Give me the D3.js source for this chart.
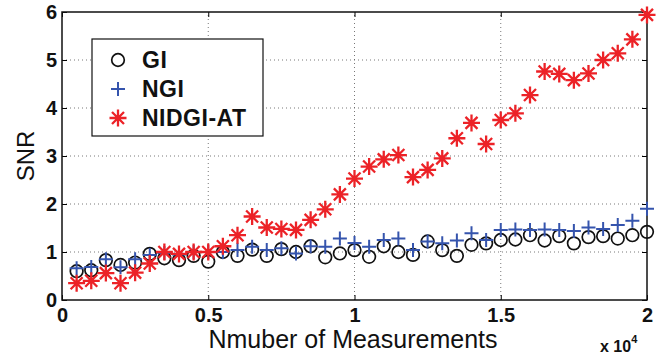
<!DOCTYPE html>
<html>
<head>
<meta charset="utf-8">
<script src="https://cdn.jsdelivr.net/npm/d3@7"></script>
<style>
  body { margin: 0; background: #fff; }
  svg { display: block; font-family: "Liberation Sans", Arial, sans-serif; }
</style>
</head>
<body>
<div id="chart"></div>
<script>
// sample counts: 500, 1000, ..., 20000
const measurements = d3.range(1, 41).map(k => k * 500);

const gi = [0.60, 0.62, 0.83, 0.73, 0.78, 0.96, 0.87, 0.83, 0.92, 0.80,
            1.00, 0.92, 1.05, 0.92, 1.06, 1.00, 1.12, 0.89, 0.97, 1.04,
            0.90, 1.12, 1.00, 0.94, 1.22, 1.04, 0.92, 1.15, 1.18, 1.25,
            1.26, 1.35, 1.24, 1.33, 1.18, 1.31, 1.33, 1.28, 1.35, 1.42];

const ngi = [0.66, 0.69, 0.85, 0.68, 0.85, 0.94, 0.98, 0.95, 1.00, 1.00,
             1.00, 1.04, 1.11, 1.04, 1.08, 0.97, 1.12, 1.11, 1.28, 1.19,
             1.11, 1.25, 1.28, 1.04, 1.22, 1.18, 1.24, 1.39, 1.25, 1.46,
             1.47, 1.46, 1.47, 1.46, 1.44, 1.51, 1.48, 1.56, 1.65, 1.90];

const nidgi = [0.35, 0.40, 0.56, 0.35, 0.57, 0.76, 1.00, 0.96, 1.00, 1.00,
               1.12, 1.35, 1.74, 1.51, 1.48, 1.46, 1.67, 1.89, 2.20, 2.53,
               2.78, 2.93, 3.02, 2.56, 2.71, 2.95, 3.37, 3.69, 3.25, 3.75,
               3.89, 4.27, 4.76, 4.71, 4.58, 4.72, 5.00, 5.14, 5.43, 5.94];

const xTicks = [0, 5000, 10000, 15000, 20000];
const xTickLabels = ["0", "0.5", "1", "1.5", "2"];
const yTicks = [0, 1, 2, 3, 4, 5, 6];

const W = 667, H = 360;
const margin = { top: 12, right: 20, bottom: 60, left: 62 };

const svg = d3.select("#chart").append("svg")
  .attr("width", W)
  .attr("height", H);

const x = d3.scaleLinear().domain([0, 20000]).range([margin.left, W - margin.right]);
const y = d3.scaleLinear().domain([0, 6]).range([H - margin.bottom, margin.top]);

// dotted grid
svg.append("g")
  .selectAll("line")
  .data(xTicks.slice(1, -1))
  .join("line")
  .attr("x1", d => x(d)).attr("x2", d => x(d))
  .attr("y1", y(0)).attr("y2", y(6))
  .attr("stroke", "#555").attr("stroke-width", 0.8)
  .attr("stroke-dasharray", "1,3");

svg.append("g")
  .selectAll("line")
  .data(yTicks.slice(1, -1))
  .join("line")
  .attr("x1", x(0)).attr("x2", x(20000))
  .attr("y1", d => y(d)).attr("y2", d => y(d))
  .attr("stroke", "#555").attr("stroke-width", 0.8)
  .attr("stroke-dasharray", "1,3");

// axes, ticks pointing inward
const tickFont = g => g.selectAll("text")
  .style("font-size", "20px").style("font-weight", "bold").attr("fill", "#111");

svg.append("g")
  .attr("transform", `translate(0,${y(0)})`)
  .call(d3.axisBottom(x).tickValues(xTicks).tickFormat((d, i) => xTickLabels[i])
    .tickSizeInner(-5).tickSizeOuter(0).tickPadding(8))
  .call(tickFont)
  .call(g => g.select(".domain").remove());

svg.append("g")
  .attr("transform", `translate(${x(0)},0)`)
  .call(d3.axisLeft(y).tickValues(yTicks).tickFormat(d3.format("d"))
    .tickSizeInner(-5).tickSizeOuter(0).tickPadding(5))
  .call(tickFont)
  .call(g => g.select(".domain").remove());

svg.append("g")
  .attr("transform", `translate(0,${y(6)})`)
  .call(d3.axisTop(x).tickValues(xTicks).tickFormat("").tickSizeInner(-5).tickSizeOuter(0))
  .call(g => g.select(".domain").remove());

svg.append("g")
  .attr("transform", `translate(${x(20000)},0)`)
  .call(d3.axisRight(y).tickValues(yTicks).tickFormat("").tickSizeInner(-5).tickSizeOuter(0))
  .call(g => g.select(".domain").remove());

svg.append("rect")
  .attr("x", x(0)).attr("y", y(6))
  .attr("width", x(20000) - x(0)).attr("height", y(0) - y(6))
  .attr("fill", "none").attr("stroke", "#111").attr("stroke-width", 1.5);

// marker shapes
const blue = "#3554ad", red = "#ec2227";

function drawCircle(g) {
  g.append("circle").attr("r", 6.3).attr("fill", "none")
    .attr("stroke", "#111").attr("stroke-width", 1.7);
}
function drawPlus(g) {
  g.append("path").attr("d", "M-7,0H7M0,-7V7")
    .attr("stroke", blue).attr("stroke-width", 2).attr("fill", "none");
}
function drawStar(g) {
  const s = 8.5, d = 6;
  g.append("path")
    .attr("d", `M${-s},0H${s}M0,${-s}V${s}M${-d},${-d}L${d},${d}M${-d},${d}L${d},${-d}`)
    .attr("stroke", red).attr("stroke-width", 2.3).attr("fill", "none");
}

const series = [
  { name: "GI", values: gi, draw: drawCircle },
  { name: "NGI", values: ngi, draw: drawPlus },
  { name: "NIDGI-AT", values: nidgi, draw: drawStar }
];

series.forEach(s => {
  svg.append("g")
    .selectAll("g")
    .data(measurements.map((m, i) => [m, s.values[i]]))
    .join("g")
    .attr("transform", d => `translate(${x(d[0])},${y(d[1])})`)
    .each(function () { s.draw(d3.select(this)); });
});

// legend
const legend = svg.append("g").attr("transform", "translate(92,39)");
legend.append("rect")
  .attr("width", 171).attr("height", 97)
  .attr("fill", "#fff").attr("stroke", "#111").attr("stroke-width", 1.2);

series.forEach((s, i) => {
  const row = legend.append("g").attr("transform", `translate(26,${21 + i * 29})`);
  s.draw(row);
  row.append("text")
    .attr("x", 24).attr("y", 8)
    .style("font-size", "23px").style("font-weight", "bold")
    .style("letter-spacing", "0.5px")
    .attr("fill", "#111")
    .text(s.name);
});

// labels
svg.append("text")
  .attr("transform", `translate(34,${(y(0) + y(6)) / 2}) rotate(-90)`)
  .attr("text-anchor", "middle")
  .style("font-size", "24px").attr("fill", "#111")
  .text("SNR");

svg.append("text")
  .attr("x", 353).attr("y", 348)
  .attr("text-anchor", "middle")
  .style("font-size", "25px").attr("fill", "#111")
  .text("Nmuber of Measurements");

const mult = svg.append("text")
  .attr("x", 600).attr("y", 352)
  .style("font-size", "16px").style("font-weight", "bold").attr("fill", "#111");
mult.append("tspan").text("x 10");
mult.append("tspan").attr("dy", -9).style("font-size", "11px").text("4");
</script>
</body>
</html>
